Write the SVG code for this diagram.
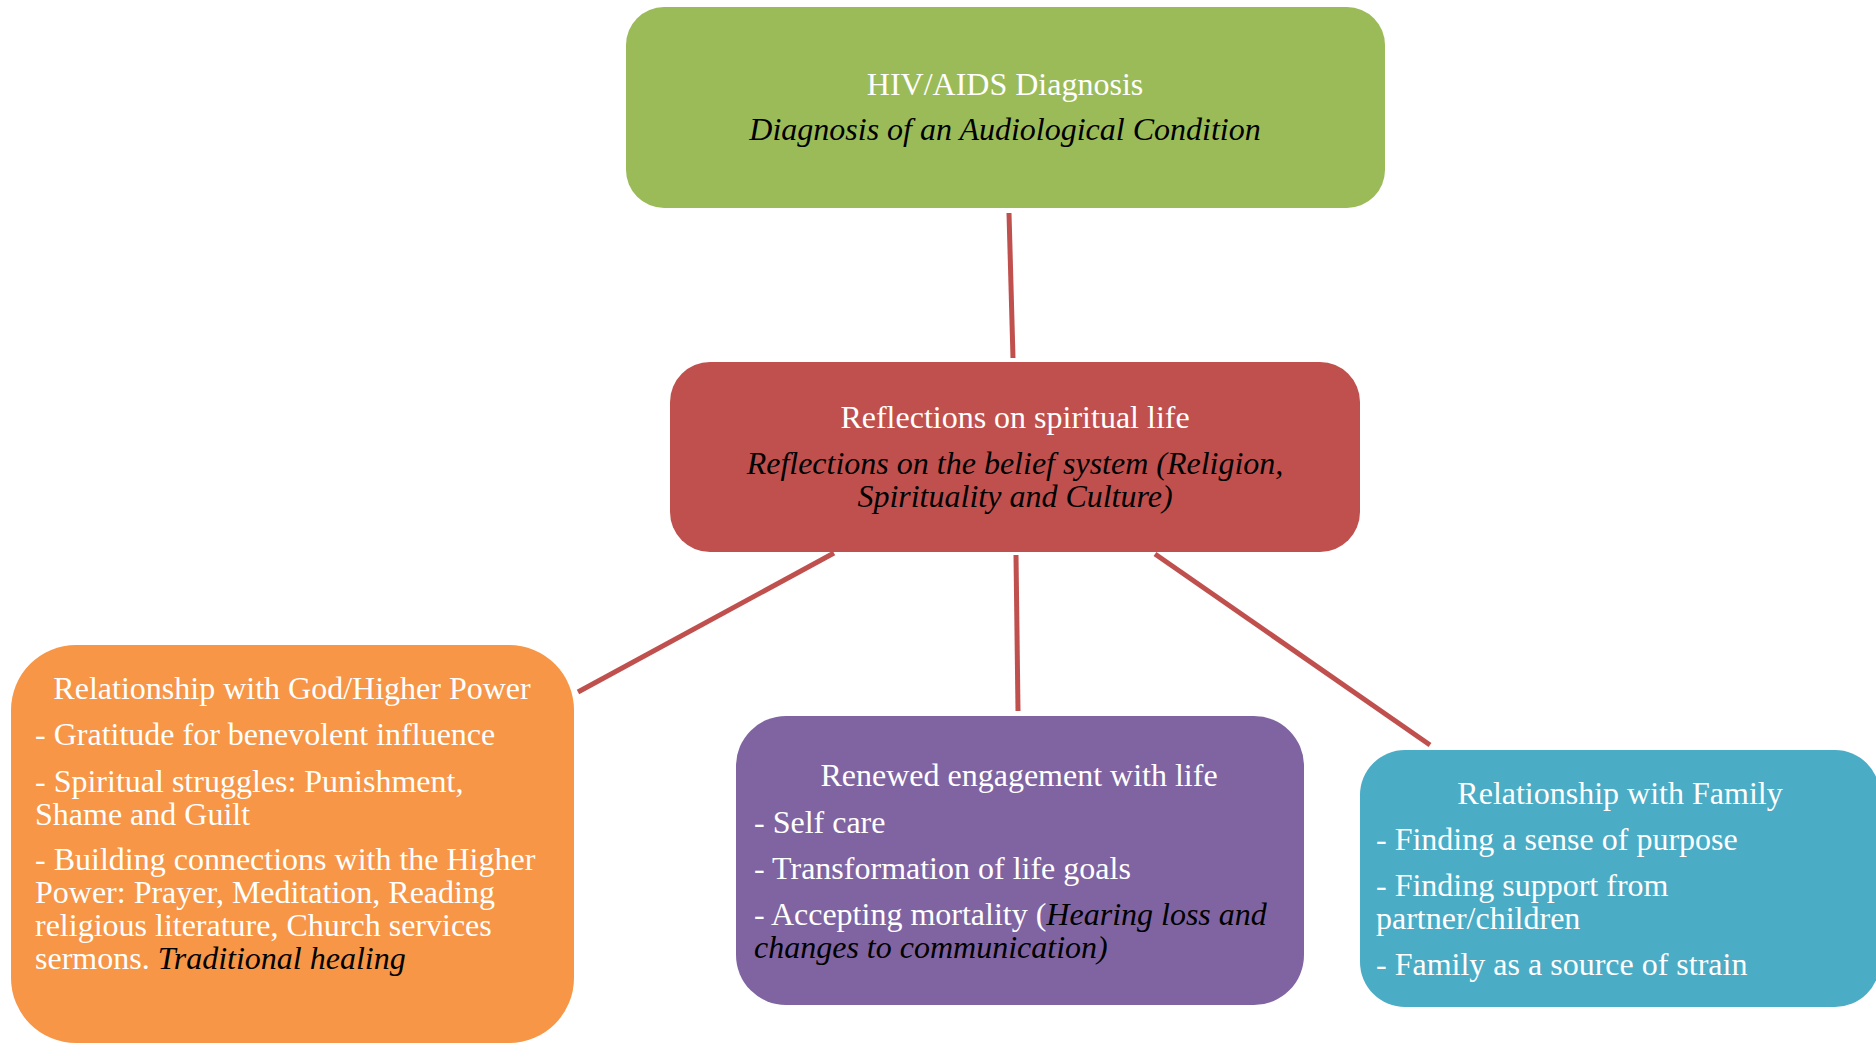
<svg xmlns="http://www.w3.org/2000/svg" width="1876" height="1044" viewBox="0 0 1876 1044">
<style>
text{font-family:"Liberation Serif","Times New Roman",serif;font-size:32px;fill:#fff}
.it{font-style:italic;fill:#000}
.c{text-anchor:middle}
.con{stroke:#C0504D;stroke-width:5;fill:none}
</style>
<rect width="1876" height="1044" fill="#fff"/>
<g id="connectors">
<line class="con" x1="1009" y1="213" x2="1013" y2="358"/>
<line class="con" x1="834" y1="553" x2="578" y2="692"/>
<line class="con" x1="1016" y1="555" x2="1018" y2="711"/>
<line class="con" x1="1155" y1="554" x2="1430" y2="745"/>
</g>
<g id="node-diagnosis">
<rect x="626" y="7" width="759" height="201" rx="38" fill="#9BBB59"/>
<text class="c" x="1005" y="95">HIV/AIDS Diagnosis</text>
<text class="c it" x="1005" y="140">Diagnosis of an Audiological Condition</text>
</g>
<g id="node-reflections">
<rect x="670" y="362" width="690" height="190" rx="40" fill="#C0504D"/>
<text class="c" x="1015" y="428">Reflections on spiritual life</text>
<text class="c it" x="1015" y="474">Reflections on the belief system (Religion,</text>
<text class="c it" x="1015" y="507">Spirituality and Culture)</text>
</g>
<g id="node-god">
<rect x="11" y="645" width="563" height="398" rx="65" fill="#F79646"/>
<text class="c" x="292" y="699">Relationship with God/Higher Power</text>
<text x="35" y="745">- Gratitude for benevolent influence</text>
<text x="35" y="792">- Spiritual struggles: Punishment,</text>
<text x="35" y="825">Shame and Guilt</text>
<text x="35" y="870">- Building connections with the Higher</text>
<text x="35" y="903">Power: Prayer, Meditation, Reading</text>
<text x="35" y="936">religious literature, Church services</text>
<text x="35" y="969" xml:space="preserve">sermons. <tspan class="it">Traditional healing</tspan></text>
</g>
<g id="node-engagement">
<rect x="736" y="716" width="568" height="289" rx="50" fill="#8064A2"/>
<text class="c" x="1019" y="786">Renewed engagement with life</text>
<text x="754" y="833">- Self care</text>
<text x="754" y="879">- Transformation of life goals</text>
<text x="754" y="925" xml:space="preserve">- Accepting mortality (<tspan class="it">Hearing loss and</tspan></text>
<text class="it" x="754" y="958">changes to communication)</text>
</g>
<g id="node-family">
<rect x="1360" y="750" width="520" height="257" rx="45" fill="#4BACC6"/>
<text class="c" x="1620" y="804">Relationship with Family</text>
<text x="1376" y="850">- Finding a sense of purpose</text>
<text x="1376" y="896">- Finding support from</text>
<text x="1376" y="929">partner/children</text>
<text x="1376" y="975">- Family as a source of strain</text>
</g>
</svg>
